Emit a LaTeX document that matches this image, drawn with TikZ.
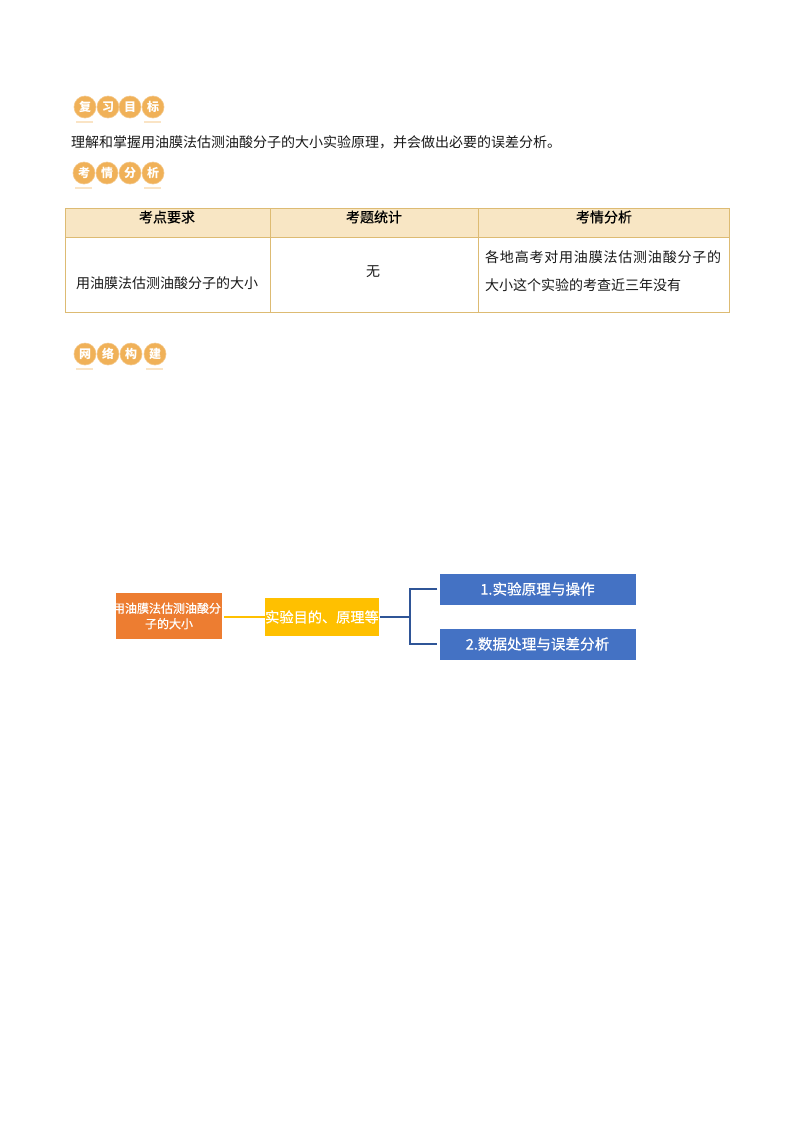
\documentclass[tikz,border=0pt]{standalone}
\usepackage{fontspec}
\setmainfont{Noto Sans CJK SC}
\newfontfamily\cjkb[FakeBold=0.6]{Noto Sans CJK SC}
\newfontfamily\cjks[LetterSpace=5.7]{Noto Sans CJK SC}
\definecolor{tline}{HTML}{DDBB73}
\definecolor{thead}{HTML}{F8E6C4}
\definecolor{badge}{HTML}{F0B158}
\definecolor{orangebox}{HTML}{ED7D31}
\definecolor{goldbox}{HTML}{FFC000}
\definecolor{bluebox}{HTML}{4472C4}
\definecolor{navyline}{HTML}{2F5597}
\tikzset{
  x=1pt,y=-1pt,
  badgedot/.style={circle,fill=badge,draw=badge!70,line width=0.6pt,minimum size=22pt,inner sep=0pt,text=white,font=\fontsize{12}{12}\selectfont\bfseries},
  badgeline/.style={draw=badge!35,line width=2pt},
  bodytext/.style={inner sep=0pt,text=black!90,font=\fontsize{14}{14}\selectfont},
  headtext/.style={inner sep=0pt,text=black,font=\fontsize{14}{14}\selectfont\cjkb},
  box/.style={minimum height=#1,inner sep=0pt,text=white,align=center},
  conn/.style={line width=1.5pt}
}
\begin{document}
\begin{tikzpicture}
\useasboundingbox (0,0) rectangle (793,1122);
\fill[white] (0,0) rectangle (793,1122);
% badges
\foreach \n/\a/\b/\c/\d/\y/\xa/\xb/\xc/\xd in {p/复/习/目/标/107/85/108/130/153,q/考/情/分/析/173/84/107/130/153,r/网/络/构/建/354/85/108/131/155}{
  \node[badgedot] (\n1) at (\xa,\y) {\a};
  \node[badgedot] (\n2) at (\xb,\y) {\b};
  \node[badgedot] (\n3) at (\xc,\y) {\c};
  \node[badgedot] (\n4) at (\xd,\y) {\d};
  \draw[badgeline] (\xa-9,\y+14.5) -- (\xa+8,\y+14.5);
  \draw[badgeline] (\xd-9,\y+14.5) -- (\xd+8,\y+14.5);
}
\node[bodytext,anchor=west] (goal) at (71,142) {理解和掌握用油膜法估测油酸分子的大小实验原理，并会做出必要的误差分析。};
% table
\fill[thead] (65,208) rectangle (729,237);
\draw[tline,line width=1pt] (65,208) rectangle (729,312.5);
\draw[tline,line width=1pt] (65,237) -- (729,237);
\draw[tline,line width=1pt] (270.5,208) -- (270.5,312.5);
\draw[tline,line width=1pt] (478,208) -- (478,312.5);
\node[headtext] (h1) at (167,217) {考点要求};
\node[headtext] (h2) at (374,217) {考题统计};
\node[headtext] (h3) at (604,217) {考情分析};
\node[bodytext] (c1) at (167,283) {用油膜法估测油酸分子的大小};
\node[bodytext] (c2) at (373,272) {无};
\node[bodytext,anchor=west,font=\fontsize{14}{14}\selectfont\cjks] (c3a) at (485,257) {各地高考对用油膜法估测油酸分子的};
\node[bodytext,anchor=west] (c3b) at (485,285) {大小这个实验的考查近三年没有};
% diagram
\node[box=46pt,fill=orangebox,minimum width=106pt,font=\fontsize{12}{15.5}\selectfont\cjkb] (root) at (169,616) {\makebox[106pt][c]{\hspace{-4pt}用油膜法估测油酸分}\\子的大小};
\node[box=38pt,fill=goldbox,minimum width=114pt,font=\fontsize{14.2}{14}\selectfont\cjkb] (mid) at (322,617) {实验目的、原理等};
\node[box=31pt,fill=bluebox,minimum width=196pt,font=\fontsize{14.6}{14}\selectfont\cjkb] (b1) at (537.5,589) {1.实验原理与操作};
\node[box=31pt,fill=bluebox,minimum width=196pt,font=\fontsize{14.6}{14}\selectfont\cjkb] (b2) at (537.5,644) {2.数据处理与误差分析};
\draw[goldbox,conn] ([xshift=2pt]root.east|-mid.west) -- (mid.west);
\coordinate (fork) at (410,617);
\draw[navyline,conn] ([xshift=1pt]mid.east) -- (fork);
\draw[navyline,conn] ([xshift=-2pt]b1.west) -- (410,589) -- (410,644) -- ([xshift=-2pt]b2.west);
\end{tikzpicture}
\end{document}
